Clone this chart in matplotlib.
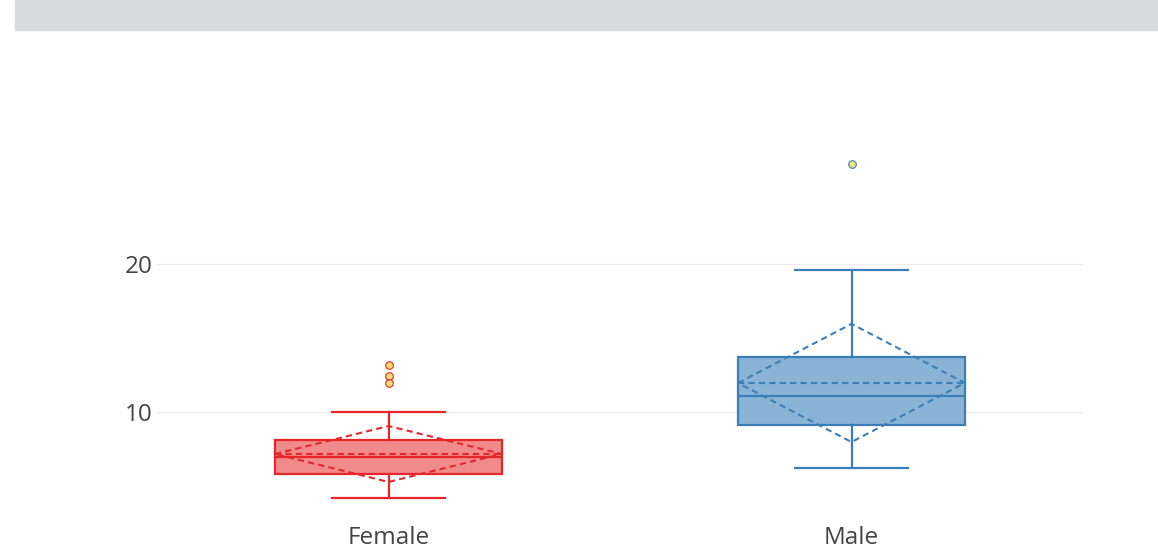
import matplotlib.pyplot as plt
from matplotlib.patches import Rectangle

plt.rcParams['font.family'] = ['Open Sans', 'DejaVu Sans']

# box statistics
groups = ['Female', 'Male']
q1 = [5.81, 9.12]
medians = [6.96, 11.08]
q3 = [8.11, 13.72]
whisk_lo = [4.19, 6.22]
whisk_hi = [10.0, 19.59]
means = [7.16, 11.96]
sds = [1.89, 3.99]
outliers = [[13.18, 12.43, 11.96], [26.76]]

line_colors = ['#e6262a', '#3a7fb8']
fill_colors = ['#f08a8b', '#8ab4d6']
flier_fill = ['#f7dc6f', '#e8e57a']

fig = plt.figure(figsize=(11.58, 5.54), dpi=100)
# grey band across the top
fig.patches.append(Rectangle((15 / 1158, 1 - 30 / 554), 1, 30 / 554,
                             transform=fig.transFigure, color='#d9dadc', zorder=0))

ax = fig.add_axes([157 / 1158, 1 - 512 / 554, 926 / 1158, 362 / 554])

width = 0.49
for i, g in enumerate(groups):
    stats = [dict(label=g, q1=q1[i], med=medians[i], q3=q3[i],
                  whislo=whisk_lo[i], whishi=whisk_hi[i], fliers=outliers[i])]
    c = line_colors[i]
    ax.bxp(stats, positions=[i], widths=width, capwidths=width / 2, patch_artist=True,
           boxprops=dict(facecolor=fill_colors[i], edgecolor=c, linewidth=1.6),
           medianprops=dict(color=c, linewidth=1.6),
           whiskerprops=dict(color=c, linewidth=1.6),
           capprops=dict(color=c, linewidth=1.6),
           flierprops=dict(marker='o', markersize=5.5, markerfacecolor=flier_fill[i],
                           markeredgecolor=c, markeredgewidth=0.8),
           zorder=3)
    left, right = i - width / 2, i + width / 2
    m, s = means[i], sds[i]
    ax.plot([left, right], [m, m], color=c, linestyle='--', linewidth=1.5, dashes=(3, 2), zorder=4)
    ax.plot([left, i, right, i, left], [m, m + s, m, m - s, m],
            color=c, linestyle='--', linewidth=1.5, dashes=(3, 2), zorder=4)

ax.set_xlim(-0.5, 1.5)
ax.set_ylim(3.24, 27.7)
ax.set_yticks([10, 20])
ax.set_xticks([0, 1])
ax.set_xticklabels(groups)
ax.grid(axis='y', color='#ebebeb', linewidth=1)
ax.set_axisbelow(True)
for sp in ax.spines.values():
    sp.set_visible(False)
ax.tick_params(length=0, labelsize=17.5, labelcolor='#444444')
ax.tick_params(axis='y', pad=3)
ax.tick_params(axis='x', pad=10)

fig.savefig('out.png', dpi=100)
